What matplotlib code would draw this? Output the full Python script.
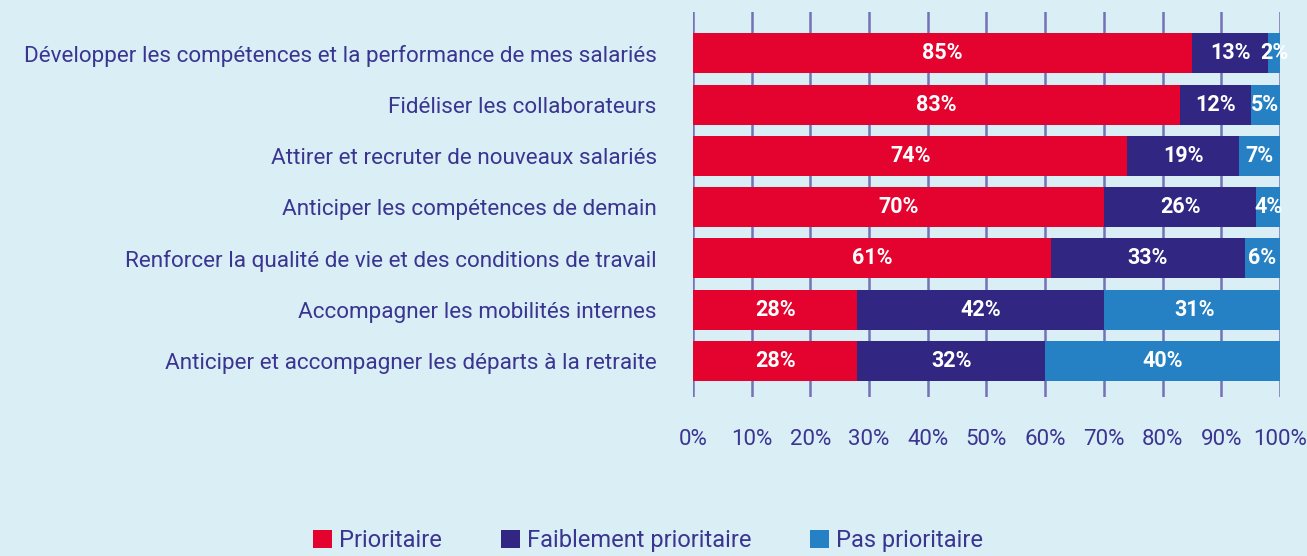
import matplotlib
matplotlib.use("Agg")
import matplotlib.pyplot as plt
from matplotlib.patches import Patch
import numpy as np

categories = [
    "Développer les compétences et la performance de mes salariés",
    "Fidéliser les collaborateurs",
    "Attirer et recruter de nouveaux salariés",
    "Anticiper les compétences de demain",
    "Renforcer la qualité de vie et des conditions de travail",
    "Accompagner les mobilités internes",
    "Anticiper et accompagner les départs à la retraite",
]
prioritaire = [85, 83, 74, 70, 61, 28, 28]
faiblement = [13, 12, 19, 26, 33, 42, 32]
pas_prioritaire = [2, 5, 7, 4, 6, 31, 40]
series_names = ["Prioritaire", "Faiblement prioritaire", "Pas prioritaire"]
colors = ["#e4032e", "#312782", "#2581c4"]
xticks = list(range(0, 101, 10))
xticklabels = [f"{t}%" for t in xticks]

BG = "#daeef6"
TXT = "#3b3591"
GRID = "#7472b4"
FONT = ["Roboto", "DejaVu Sans"]
plt.rcParams["font.family"] = FONT

fig = plt.figure(figsize=(13.07, 5.56), dpi=100, facecolor=BG)
ax = fig.add_axes([0.5302, 0.286, 0.4491, 0.692])
ax.set_facecolor(BG)

y = np.arange(len(categories))
left = np.zeros(len(categories))
for vals, col in zip([prioritaire, faiblement, pas_prioritaire], colors):
    vals = np.array(vals, dtype=float)
    ax.barh(y, vals, left=left, color=col, height=0.78, zorder=2)
    for yi, l, v in zip(y, left, vals):
        ax.text(l + v / 2, yi, f"{int(v)}%", ha="center", va="center",
                color="white", fontsize=15.5, fontweight="bold", zorder=3)
    left += vals

ax.set_xlim(0, 100)
ax.set_ylim(6.7, -0.8)
for t in xticks:
    ax.axvline(t, color=GRID, lw=1.8, zorder=1)
ax.set_xticks(xticks)
ax.set_xticklabels(xticklabels, color=TXT, fontsize=16)
ax.tick_params(axis="x", length=0, pad=23)
ax.set_yticks(y)
ax.set_yticklabels(categories, color=TXT, fontsize=16.2)
ax.tick_params(axis="y", length=0, pad=26)
for s in ax.spines.values():
    s.set_visible(False)

handles = [Patch(facecolor=c, edgecolor="none") for c in colors]
fig.legend(handles, series_names, loc="center", bbox_to_anchor=(0.496, 0.028),
           ncol=3, frameon=False, fontsize=17, handlelength=0.8, handleheight=0.8,
           handletextpad=0.3, columnspacing=2.5, labelcolor=TXT)

fig.savefig("out.png", dpi=100, facecolor=BG)
